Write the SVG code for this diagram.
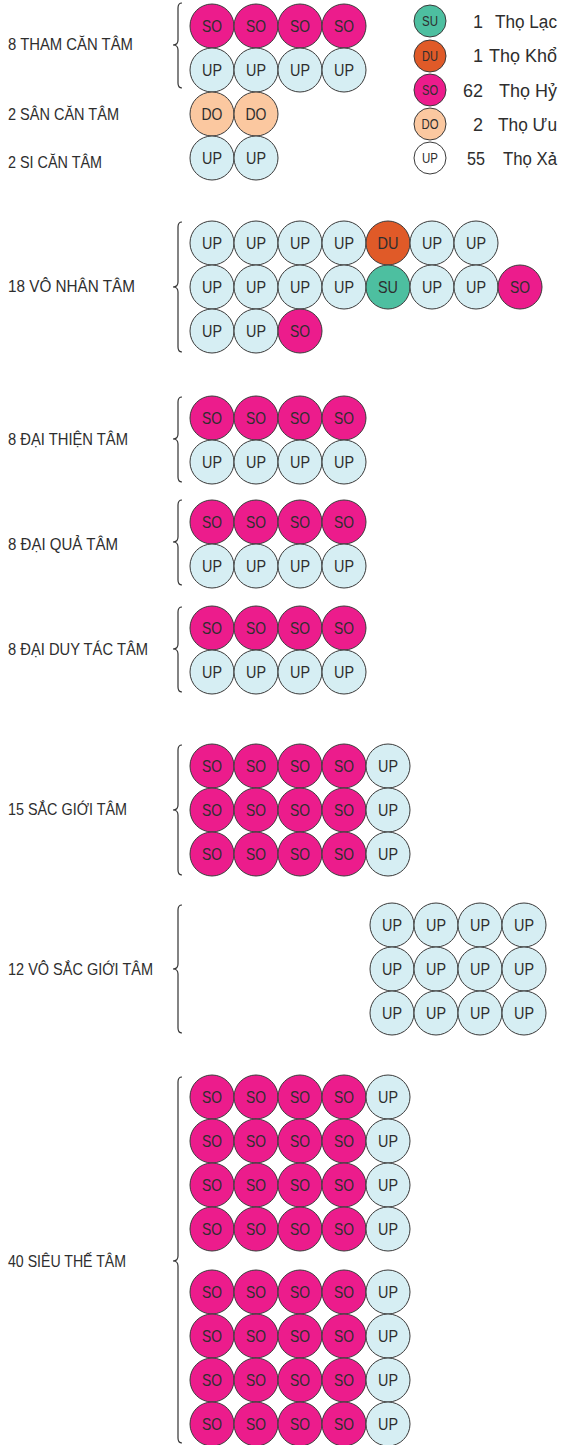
<svg xmlns="http://www.w3.org/2000/svg" width="562" height="1445" viewBox="0 0 562 1445">
<style>
circle{stroke:#3a3a3a;stroke-width:1}
.so{fill:#EC1C8C}.up{fill:#D6EEF3}.do{fill:#FBC8A0}.du{fill:#E05A28}.su{fill:#4DBFA0}.wh{fill:#FFFFFF}
text{font-family:"Liberation Sans",Arial,sans-serif;fill:#2e2e2e}
.t{font-size:17px;text-anchor:middle}
.lt{font-size:14px;text-anchor:middle}
.lbl{font-size:17px}
.lg{font-size:18px;text-anchor:end}
.br{fill:none;stroke:#333;stroke-width:1.2}
</style>
<rect width="562" height="1445" fill="#FFFFFF"/>

<g id="braces">
<path class="br" d="M182,3 Q178,3 178,8 L178,40 Q178,45 173,45 Q178,45 178,50 L178,83 Q178,88 182,88"/>
<path class="br" d="M182,222 Q178,222 178,227 L178,282 Q178,287 173,287 Q178,287 178,292 L178,347 Q178,352 182,352"/>
<path class="br" d="M182,397 Q178,397 178,402 L178,434 Q178,439 173,439 Q178,439 178,444 L178,477 Q178,482 182,482"/>
<path class="br" d="M182,500 Q178,500 178,505 L178,537 Q178,542 173,542 Q178,542 178,547 L178,580 Q178,585 182,585"/>
<path class="br" d="M182,607 Q178,607 178,612 L178,644 Q178,649 173,649 Q178,649 178,654 L178,687 Q178,692 182,692"/>
<path class="br" d="M182,745 Q178,745 178,750 L178,805 Q178,810 173,810 Q178,810 178,815 L178,870 Q178,875 182,875"/>
<path class="br" d="M182,905 Q178,905 178,910 L178,964 Q178,969 173,969 Q178,969 178,974 L178,1028 Q178,1033 182,1033"/>
<path class="br" d="M182,1077 Q178,1077 178,1082 L178,1256 Q178,1261 173,1261 Q178,1261 178,1266 L178,1438 Q178,1443 182,1443"/>
</g>

<g id="legend">
<circle class="su" cx="430" cy="21" r="16"/><text class="lt" x="430" y="26" textLength="16" lengthAdjust="spacingAndGlyphs">SU</text>
<text class="lg" x="483" y="28">1</text><text class="lg" x="557" y="28" textLength="62" lengthAdjust="spacingAndGlyphs">Thọ Lạc</text>
<circle class="du" cx="430" cy="56" r="16"/><text class="lt" x="430" y="61" textLength="16" lengthAdjust="spacingAndGlyphs">DU</text>
<text class="lg" x="483" y="62">1</text><text class="lg" x="557" y="62" textLength="68" lengthAdjust="spacingAndGlyphs">Thọ Khổ</text>
<circle class="so" cx="430" cy="90" r="16"/><text class="lt" x="430" y="95" textLength="16" lengthAdjust="spacingAndGlyphs">SO</text>
<text class="lg" x="483" y="97" textLength="20" lengthAdjust="spacingAndGlyphs">62</text><text class="lg" x="557" y="97" textLength="58" lengthAdjust="spacingAndGlyphs">Thọ Hỷ</text>
<circle class="do" cx="430" cy="124" r="16"/><text class="lt" x="430" y="129" textLength="17" lengthAdjust="spacingAndGlyphs">DO</text>
<text class="lg" x="483" y="131">2</text><text class="lg" x="557" y="131" textLength="59" lengthAdjust="spacingAndGlyphs">Thọ Ưu</text>
<circle class="wh" cx="430" cy="158" r="16"/><text class="lt" x="430" y="163" textLength="16" lengthAdjust="spacingAndGlyphs">UP</text>
<text class="lg" x="485" y="165" textLength="18" lengthAdjust="spacingAndGlyphs">55</text><text class="lg" x="557" y="165" textLength="54" lengthAdjust="spacingAndGlyphs">Thọ Xả</text>
</g>

<g id="tham-can-tam">
<text class="lbl" x="8" y="50" textLength="125" lengthAdjust="spacingAndGlyphs">8 THAM CĂN TÂM</text>
<circle class="so" cx="212" cy="26" r="22"/><text class="t" x="212" y="32" textLength="20" lengthAdjust="spacingAndGlyphs">SO</text>
<circle class="so" cx="256" cy="26" r="22"/><text class="t" x="256" y="32" textLength="20" lengthAdjust="spacingAndGlyphs">SO</text>
<circle class="so" cx="300" cy="26" r="22"/><text class="t" x="300" y="32" textLength="20" lengthAdjust="spacingAndGlyphs">SO</text>
<circle class="so" cx="344" cy="26" r="22"/><text class="t" x="344" y="32" textLength="20" lengthAdjust="spacingAndGlyphs">SO</text>
<circle class="up" cx="212" cy="70" r="22"/><text class="t" x="212" y="76" textLength="20" lengthAdjust="spacingAndGlyphs">UP</text>
<circle class="up" cx="256" cy="70" r="22"/><text class="t" x="256" y="76" textLength="20" lengthAdjust="spacingAndGlyphs">UP</text>
<circle class="up" cx="300" cy="70" r="22"/><text class="t" x="300" y="76" textLength="20" lengthAdjust="spacingAndGlyphs">UP</text>
<circle class="up" cx="344" cy="70" r="22"/><text class="t" x="344" y="76" textLength="20" lengthAdjust="spacingAndGlyphs">UP</text>
</g>

<g id="san-can-tam">
<text class="lbl" x="8" y="120" textLength="111" lengthAdjust="spacingAndGlyphs">2 SÂN CĂN TÂM</text>
<circle class="do" cx="212" cy="114" r="22"/><text class="t" x="212" y="120" textLength="21" lengthAdjust="spacingAndGlyphs">DO</text>
<circle class="do" cx="256" cy="114" r="22"/><text class="t" x="256" y="120" textLength="21" lengthAdjust="spacingAndGlyphs">DO</text>
</g>

<g id="si-can-tam">
<text class="lbl" x="8" y="168" textLength="94" lengthAdjust="spacingAndGlyphs">2 SI CĂN TÂM</text>
<circle class="up" cx="212" cy="158" r="22"/><text class="t" x="212" y="164" textLength="20" lengthAdjust="spacingAndGlyphs">UP</text>
<circle class="up" cx="256" cy="158" r="22"/><text class="t" x="256" y="164" textLength="20" lengthAdjust="spacingAndGlyphs">UP</text>
</g>

<g id="vo-nhan-tam">
<text class="lbl" x="8" y="292" textLength="127" lengthAdjust="spacingAndGlyphs">18 VÔ NHÂN TÂM</text>
<circle class="up" cx="212" cy="243" r="22"/><text class="t" x="212" y="249" textLength="20" lengthAdjust="spacingAndGlyphs">UP</text>
<circle class="up" cx="256" cy="243" r="22"/><text class="t" x="256" y="249" textLength="20" lengthAdjust="spacingAndGlyphs">UP</text>
<circle class="up" cx="300" cy="243" r="22"/><text class="t" x="300" y="249" textLength="20" lengthAdjust="spacingAndGlyphs">UP</text>
<circle class="up" cx="344" cy="243" r="22"/><text class="t" x="344" y="249" textLength="20" lengthAdjust="spacingAndGlyphs">UP</text>
<circle class="du" cx="388" cy="243" r="22"/><text class="t" x="388" y="249" textLength="21" lengthAdjust="spacingAndGlyphs">DU</text>
<circle class="up" cx="432" cy="243" r="22"/><text class="t" x="432" y="249" textLength="20" lengthAdjust="spacingAndGlyphs">UP</text>
<circle class="up" cx="476" cy="243" r="22"/><text class="t" x="476" y="249" textLength="20" lengthAdjust="spacingAndGlyphs">UP</text>
<circle class="up" cx="212" cy="287" r="22"/><text class="t" x="212" y="293" textLength="20" lengthAdjust="spacingAndGlyphs">UP</text>
<circle class="up" cx="256" cy="287" r="22"/><text class="t" x="256" y="293" textLength="20" lengthAdjust="spacingAndGlyphs">UP</text>
<circle class="up" cx="300" cy="287" r="22"/><text class="t" x="300" y="293" textLength="20" lengthAdjust="spacingAndGlyphs">UP</text>
<circle class="up" cx="344" cy="287" r="22"/><text class="t" x="344" y="293" textLength="20" lengthAdjust="spacingAndGlyphs">UP</text>
<circle class="su" cx="388" cy="287" r="22"/><text class="t" x="388" y="293" textLength="20" lengthAdjust="spacingAndGlyphs">SU</text>
<circle class="up" cx="432" cy="287" r="22"/><text class="t" x="432" y="293" textLength="20" lengthAdjust="spacingAndGlyphs">UP</text>
<circle class="up" cx="476" cy="287" r="22"/><text class="t" x="476" y="293" textLength="20" lengthAdjust="spacingAndGlyphs">UP</text>
<circle class="so" cx="520" cy="287" r="22"/><text class="t" x="520" y="293" textLength="20" lengthAdjust="spacingAndGlyphs">SO</text>
<circle class="up" cx="212" cy="331" r="22"/><text class="t" x="212" y="337" textLength="20" lengthAdjust="spacingAndGlyphs">UP</text>
<circle class="up" cx="256" cy="331" r="22"/><text class="t" x="256" y="337" textLength="20" lengthAdjust="spacingAndGlyphs">UP</text>
<circle class="so" cx="300" cy="331" r="22"/><text class="t" x="300" y="337" textLength="20" lengthAdjust="spacingAndGlyphs">SO</text>
</g>

<g id="dai-thien-tam">
<text class="lbl" x="8" y="445" textLength="120" lengthAdjust="spacingAndGlyphs">8 ĐẠI THIỆN TÂM</text>
<circle class="so" cx="212" cy="418" r="22"/><text class="t" x="212" y="424" textLength="20" lengthAdjust="spacingAndGlyphs">SO</text>
<circle class="so" cx="256" cy="418" r="22"/><text class="t" x="256" y="424" textLength="20" lengthAdjust="spacingAndGlyphs">SO</text>
<circle class="so" cx="300" cy="418" r="22"/><text class="t" x="300" y="424" textLength="20" lengthAdjust="spacingAndGlyphs">SO</text>
<circle class="so" cx="344" cy="418" r="22"/><text class="t" x="344" y="424" textLength="20" lengthAdjust="spacingAndGlyphs">SO</text>
<circle class="up" cx="212" cy="462" r="22"/><text class="t" x="212" y="468" textLength="20" lengthAdjust="spacingAndGlyphs">UP</text>
<circle class="up" cx="256" cy="462" r="22"/><text class="t" x="256" y="468" textLength="20" lengthAdjust="spacingAndGlyphs">UP</text>
<circle class="up" cx="300" cy="462" r="22"/><text class="t" x="300" y="468" textLength="20" lengthAdjust="spacingAndGlyphs">UP</text>
<circle class="up" cx="344" cy="462" r="22"/><text class="t" x="344" y="468" textLength="20" lengthAdjust="spacingAndGlyphs">UP</text>
</g>

<g id="dai-qua-tam">
<text class="lbl" x="8" y="550" textLength="110" lengthAdjust="spacingAndGlyphs">8 ĐẠI QUẢ TÂM</text>
<circle class="so" cx="212" cy="522" r="22"/><text class="t" x="212" y="528" textLength="20" lengthAdjust="spacingAndGlyphs">SO</text>
<circle class="so" cx="256" cy="522" r="22"/><text class="t" x="256" y="528" textLength="20" lengthAdjust="spacingAndGlyphs">SO</text>
<circle class="so" cx="300" cy="522" r="22"/><text class="t" x="300" y="528" textLength="20" lengthAdjust="spacingAndGlyphs">SO</text>
<circle class="so" cx="344" cy="522" r="22"/><text class="t" x="344" y="528" textLength="20" lengthAdjust="spacingAndGlyphs">SO</text>
<circle class="up" cx="212" cy="566" r="22"/><text class="t" x="212" y="572" textLength="20" lengthAdjust="spacingAndGlyphs">UP</text>
<circle class="up" cx="256" cy="566" r="22"/><text class="t" x="256" y="572" textLength="20" lengthAdjust="spacingAndGlyphs">UP</text>
<circle class="up" cx="300" cy="566" r="22"/><text class="t" x="300" y="572" textLength="20" lengthAdjust="spacingAndGlyphs">UP</text>
<circle class="up" cx="344" cy="566" r="22"/><text class="t" x="344" y="572" textLength="20" lengthAdjust="spacingAndGlyphs">UP</text>
</g>

<g id="dai-duy-tac-tam">
<text class="lbl" x="8" y="655" textLength="140" lengthAdjust="spacingAndGlyphs">8 ĐẠI DUY TÁC TÂM</text>
<circle class="so" cx="212" cy="628" r="22"/><text class="t" x="212" y="634" textLength="20" lengthAdjust="spacingAndGlyphs">SO</text>
<circle class="so" cx="256" cy="628" r="22"/><text class="t" x="256" y="634" textLength="20" lengthAdjust="spacingAndGlyphs">SO</text>
<circle class="so" cx="300" cy="628" r="22"/><text class="t" x="300" y="634" textLength="20" lengthAdjust="spacingAndGlyphs">SO</text>
<circle class="so" cx="344" cy="628" r="22"/><text class="t" x="344" y="634" textLength="20" lengthAdjust="spacingAndGlyphs">SO</text>
<circle class="up" cx="212" cy="672" r="22"/><text class="t" x="212" y="678" textLength="20" lengthAdjust="spacingAndGlyphs">UP</text>
<circle class="up" cx="256" cy="672" r="22"/><text class="t" x="256" y="678" textLength="20" lengthAdjust="spacingAndGlyphs">UP</text>
<circle class="up" cx="300" cy="672" r="22"/><text class="t" x="300" y="678" textLength="20" lengthAdjust="spacingAndGlyphs">UP</text>
<circle class="up" cx="344" cy="672" r="22"/><text class="t" x="344" y="678" textLength="20" lengthAdjust="spacingAndGlyphs">UP</text>
</g>

<g id="sac-gioi-tam">
<text class="lbl" x="8" y="815" textLength="119" lengthAdjust="spacingAndGlyphs">15 SẮC GIỚI TÂM</text>
<circle class="so" cx="212" cy="766" r="22"/><text class="t" x="212" y="772" textLength="20" lengthAdjust="spacingAndGlyphs">SO</text>
<circle class="so" cx="256" cy="766" r="22"/><text class="t" x="256" y="772" textLength="20" lengthAdjust="spacingAndGlyphs">SO</text>
<circle class="so" cx="300" cy="766" r="22"/><text class="t" x="300" y="772" textLength="20" lengthAdjust="spacingAndGlyphs">SO</text>
<circle class="so" cx="344" cy="766" r="22"/><text class="t" x="344" y="772" textLength="20" lengthAdjust="spacingAndGlyphs">SO</text>
<circle class="up" cx="388" cy="766" r="22"/><text class="t" x="388" y="772" textLength="20" lengthAdjust="spacingAndGlyphs">UP</text>
<circle class="so" cx="212" cy="810" r="22"/><text class="t" x="212" y="816" textLength="20" lengthAdjust="spacingAndGlyphs">SO</text>
<circle class="so" cx="256" cy="810" r="22"/><text class="t" x="256" y="816" textLength="20" lengthAdjust="spacingAndGlyphs">SO</text>
<circle class="so" cx="300" cy="810" r="22"/><text class="t" x="300" y="816" textLength="20" lengthAdjust="spacingAndGlyphs">SO</text>
<circle class="so" cx="344" cy="810" r="22"/><text class="t" x="344" y="816" textLength="20" lengthAdjust="spacingAndGlyphs">SO</text>
<circle class="up" cx="388" cy="810" r="22"/><text class="t" x="388" y="816" textLength="20" lengthAdjust="spacingAndGlyphs">UP</text>
<circle class="so" cx="212" cy="854" r="22"/><text class="t" x="212" y="860" textLength="20" lengthAdjust="spacingAndGlyphs">SO</text>
<circle class="so" cx="256" cy="854" r="22"/><text class="t" x="256" y="860" textLength="20" lengthAdjust="spacingAndGlyphs">SO</text>
<circle class="so" cx="300" cy="854" r="22"/><text class="t" x="300" y="860" textLength="20" lengthAdjust="spacingAndGlyphs">SO</text>
<circle class="so" cx="344" cy="854" r="22"/><text class="t" x="344" y="860" textLength="20" lengthAdjust="spacingAndGlyphs">SO</text>
<circle class="up" cx="388" cy="854" r="22"/><text class="t" x="388" y="860" textLength="20" lengthAdjust="spacingAndGlyphs">UP</text>
</g>

<g id="vo-sac-gioi-tam">
<text class="lbl" x="8" y="975" textLength="145" lengthAdjust="spacingAndGlyphs">12 VÔ SẮC GIỚI TÂM</text>
<circle class="up" cx="392" cy="925" r="22"/><text class="t" x="392" y="931" textLength="20" lengthAdjust="spacingAndGlyphs">UP</text>
<circle class="up" cx="436" cy="925" r="22"/><text class="t" x="436" y="931" textLength="20" lengthAdjust="spacingAndGlyphs">UP</text>
<circle class="up" cx="480" cy="925" r="22"/><text class="t" x="480" y="931" textLength="20" lengthAdjust="spacingAndGlyphs">UP</text>
<circle class="up" cx="524" cy="925" r="22"/><text class="t" x="524" y="931" textLength="20" lengthAdjust="spacingAndGlyphs">UP</text>
<circle class="up" cx="392" cy="969" r="22"/><text class="t" x="392" y="975" textLength="20" lengthAdjust="spacingAndGlyphs">UP</text>
<circle class="up" cx="436" cy="969" r="22"/><text class="t" x="436" y="975" textLength="20" lengthAdjust="spacingAndGlyphs">UP</text>
<circle class="up" cx="480" cy="969" r="22"/><text class="t" x="480" y="975" textLength="20" lengthAdjust="spacingAndGlyphs">UP</text>
<circle class="up" cx="524" cy="969" r="22"/><text class="t" x="524" y="975" textLength="20" lengthAdjust="spacingAndGlyphs">UP</text>
<circle class="up" cx="392" cy="1013" r="22"/><text class="t" x="392" y="1019" textLength="20" lengthAdjust="spacingAndGlyphs">UP</text>
<circle class="up" cx="436" cy="1013" r="22"/><text class="t" x="436" y="1019" textLength="20" lengthAdjust="spacingAndGlyphs">UP</text>
<circle class="up" cx="480" cy="1013" r="22"/><text class="t" x="480" y="1019" textLength="20" lengthAdjust="spacingAndGlyphs">UP</text>
<circle class="up" cx="524" cy="1013" r="22"/><text class="t" x="524" y="1019" textLength="20" lengthAdjust="spacingAndGlyphs">UP</text>
</g>

<g id="sieu-the-tam">
<text class="lbl" x="8" y="1267" textLength="118" lengthAdjust="spacingAndGlyphs">40 SIÊU THẾ TÂM</text>
<circle class="so" cx="212" cy="1097" r="22"/><text class="t" x="212" y="1103" textLength="20" lengthAdjust="spacingAndGlyphs">SO</text>
<circle class="so" cx="256" cy="1097" r="22"/><text class="t" x="256" y="1103" textLength="20" lengthAdjust="spacingAndGlyphs">SO</text>
<circle class="so" cx="300" cy="1097" r="22"/><text class="t" x="300" y="1103" textLength="20" lengthAdjust="spacingAndGlyphs">SO</text>
<circle class="so" cx="344" cy="1097" r="22"/><text class="t" x="344" y="1103" textLength="20" lengthAdjust="spacingAndGlyphs">SO</text>
<circle class="up" cx="388" cy="1097" r="22"/><text class="t" x="388" y="1103" textLength="20" lengthAdjust="spacingAndGlyphs">UP</text>
<circle class="so" cx="212" cy="1141" r="22"/><text class="t" x="212" y="1147" textLength="20" lengthAdjust="spacingAndGlyphs">SO</text>
<circle class="so" cx="256" cy="1141" r="22"/><text class="t" x="256" y="1147" textLength="20" lengthAdjust="spacingAndGlyphs">SO</text>
<circle class="so" cx="300" cy="1141" r="22"/><text class="t" x="300" y="1147" textLength="20" lengthAdjust="spacingAndGlyphs">SO</text>
<circle class="so" cx="344" cy="1141" r="22"/><text class="t" x="344" y="1147" textLength="20" lengthAdjust="spacingAndGlyphs">SO</text>
<circle class="up" cx="388" cy="1141" r="22"/><text class="t" x="388" y="1147" textLength="20" lengthAdjust="spacingAndGlyphs">UP</text>
<circle class="so" cx="212" cy="1185" r="22"/><text class="t" x="212" y="1191" textLength="20" lengthAdjust="spacingAndGlyphs">SO</text>
<circle class="so" cx="256" cy="1185" r="22"/><text class="t" x="256" y="1191" textLength="20" lengthAdjust="spacingAndGlyphs">SO</text>
<circle class="so" cx="300" cy="1185" r="22"/><text class="t" x="300" y="1191" textLength="20" lengthAdjust="spacingAndGlyphs">SO</text>
<circle class="so" cx="344" cy="1185" r="22"/><text class="t" x="344" y="1191" textLength="20" lengthAdjust="spacingAndGlyphs">SO</text>
<circle class="up" cx="388" cy="1185" r="22"/><text class="t" x="388" y="1191" textLength="20" lengthAdjust="spacingAndGlyphs">UP</text>
<circle class="so" cx="212" cy="1229" r="22"/><text class="t" x="212" y="1235" textLength="20" lengthAdjust="spacingAndGlyphs">SO</text>
<circle class="so" cx="256" cy="1229" r="22"/><text class="t" x="256" y="1235" textLength="20" lengthAdjust="spacingAndGlyphs">SO</text>
<circle class="so" cx="300" cy="1229" r="22"/><text class="t" x="300" y="1235" textLength="20" lengthAdjust="spacingAndGlyphs">SO</text>
<circle class="so" cx="344" cy="1229" r="22"/><text class="t" x="344" y="1235" textLength="20" lengthAdjust="spacingAndGlyphs">SO</text>
<circle class="up" cx="388" cy="1229" r="22"/><text class="t" x="388" y="1235" textLength="20" lengthAdjust="spacingAndGlyphs">UP</text>
<circle class="so" cx="212" cy="1292" r="22"/><text class="t" x="212" y="1298" textLength="20" lengthAdjust="spacingAndGlyphs">SO</text>
<circle class="so" cx="256" cy="1292" r="22"/><text class="t" x="256" y="1298" textLength="20" lengthAdjust="spacingAndGlyphs">SO</text>
<circle class="so" cx="300" cy="1292" r="22"/><text class="t" x="300" y="1298" textLength="20" lengthAdjust="spacingAndGlyphs">SO</text>
<circle class="so" cx="344" cy="1292" r="22"/><text class="t" x="344" y="1298" textLength="20" lengthAdjust="spacingAndGlyphs">SO</text>
<circle class="up" cx="388" cy="1292" r="22"/><text class="t" x="388" y="1298" textLength="20" lengthAdjust="spacingAndGlyphs">UP</text>
<circle class="so" cx="212" cy="1336" r="22"/><text class="t" x="212" y="1342" textLength="20" lengthAdjust="spacingAndGlyphs">SO</text>
<circle class="so" cx="256" cy="1336" r="22"/><text class="t" x="256" y="1342" textLength="20" lengthAdjust="spacingAndGlyphs">SO</text>
<circle class="so" cx="300" cy="1336" r="22"/><text class="t" x="300" y="1342" textLength="20" lengthAdjust="spacingAndGlyphs">SO</text>
<circle class="so" cx="344" cy="1336" r="22"/><text class="t" x="344" y="1342" textLength="20" lengthAdjust="spacingAndGlyphs">SO</text>
<circle class="up" cx="388" cy="1336" r="22"/><text class="t" x="388" y="1342" textLength="20" lengthAdjust="spacingAndGlyphs">UP</text>
<circle class="so" cx="212" cy="1380" r="22"/><text class="t" x="212" y="1386" textLength="20" lengthAdjust="spacingAndGlyphs">SO</text>
<circle class="so" cx="256" cy="1380" r="22"/><text class="t" x="256" y="1386" textLength="20" lengthAdjust="spacingAndGlyphs">SO</text>
<circle class="so" cx="300" cy="1380" r="22"/><text class="t" x="300" y="1386" textLength="20" lengthAdjust="spacingAndGlyphs">SO</text>
<circle class="so" cx="344" cy="1380" r="22"/><text class="t" x="344" y="1386" textLength="20" lengthAdjust="spacingAndGlyphs">SO</text>
<circle class="up" cx="388" cy="1380" r="22"/><text class="t" x="388" y="1386" textLength="20" lengthAdjust="spacingAndGlyphs">UP</text>
<circle class="so" cx="212" cy="1424" r="22"/><text class="t" x="212" y="1430" textLength="20" lengthAdjust="spacingAndGlyphs">SO</text>
<circle class="so" cx="256" cy="1424" r="22"/><text class="t" x="256" y="1430" textLength="20" lengthAdjust="spacingAndGlyphs">SO</text>
<circle class="so" cx="300" cy="1424" r="22"/><text class="t" x="300" y="1430" textLength="20" lengthAdjust="spacingAndGlyphs">SO</text>
<circle class="so" cx="344" cy="1424" r="22"/><text class="t" x="344" y="1430" textLength="20" lengthAdjust="spacingAndGlyphs">SO</text>
<circle class="up" cx="388" cy="1424" r="22"/><text class="t" x="388" y="1430" textLength="20" lengthAdjust="spacingAndGlyphs">UP</text>
</g>
</svg>
